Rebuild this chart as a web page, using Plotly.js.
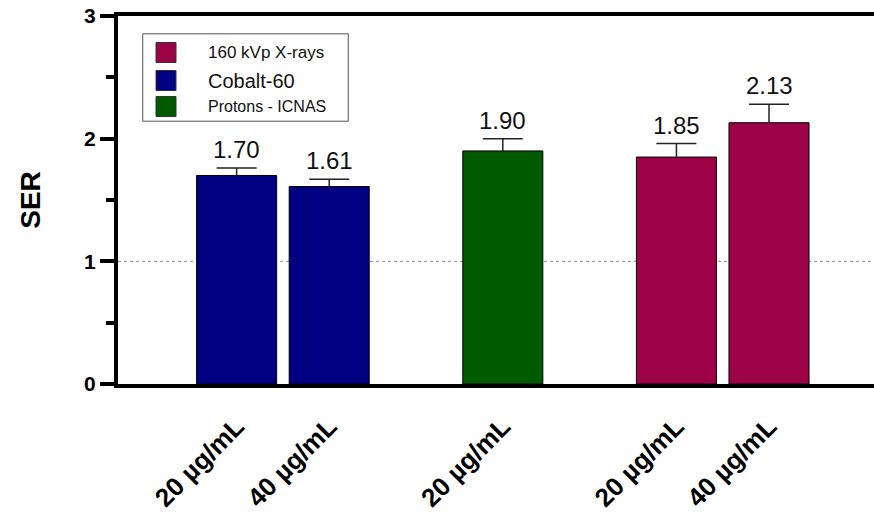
<!DOCTYPE html>
<html>
<head>
<meta charset="utf-8">
<script src="https://cdn.plot.ly/plotly-3.0.1.min.js"></script>
<style>html,body{margin:0;padding:0;background:#fff;}#chart{width:874px;height:520px;}</style>
</head>
<body>
<div id="chart"></div>
<script>
// ---- data ----
const groups = ["Cobalt-60", "Protons - ICNAS", "160 kVp X-rays"];
const groupColors = ["#000080", "#005a00", "#9b0346"];
const legendOrder = ["160 kVp X-rays", "Cobalt-60", "Protons - ICNAS"];
const legendFontSizes = [17, 20, 16];

const barGroup = ["Cobalt-60", "Cobalt-60", "Protons - ICNAS", "160 kVp X-rays", "160 kVp X-rays"];
const doseLabels = ["20 µg/mL", "40 µg/mL", "20 µg/mL", "20 µg/mL", "40 µg/mL"];
const serValues = [1.70, 1.61, 1.90, 1.85, 2.13];
const serErrors = [0.06, 0.06, 0.10, 0.11, 0.15];

const yTickVals = [0, 1, 2, 3];
const yTickText = ["0", "1", "2", "3"];

// ---- build ----
const FONT = "Liberation Sans, Arial, sans-serif";
const barSpacing = 0.421;
const barWidth = 0.364;
const capHalf = 0.091;

const xPos = [];
const traces = [];
groups.forEach((g, gi) => {
  const idx = barGroup.map((b, i) => b === g ? i : -1).filter(i => i >= 0);
  const n = idx.length;
  const xs = [], ys = [];
  idx.forEach((i, k) => {
    const x = gi + (k - (n - 1) / 2) * barSpacing;
    xPos[i] = x;
    xs.push(x); ys.push(serValues[i]);
  });
  traces.push({
    type: "bar", name: g, x: xs, y: ys, width: barWidth,
    marker: {color: groupColors[gi], line: {color: "#000", width: 1}},
    showlegend: false, hoverinfo: "skip"
  });
});

// upward-only error whiskers with caps
const ex = [], ey = [];
serValues.forEach((v, i) => {
  const top = v + serErrors[i];
  ex.push(xPos[i], xPos[i], null, xPos[i] - capHalf, xPos[i] + capHalf, null);
  ey.push(v, top, null, top, top, null);
});
traces.push({type: "scatter", mode: "lines", x: ex, y: ey,
  line: {color: "#222", width: 1.5}, showlegend: false, hoverinfo: "skip", cliponaxis: false});

const annotations = serValues.map((v, i) => ({
  x: xPos[i], y: v + serErrors[i], xref: "x", yref: "y",
  text: v.toFixed(2), showarrow: false, yanchor: "bottom", yshift: 3,
  font: {family: FONT, size: 24, color: "#111"}
}));

const shapes = [{
  type: "line", xref: "paper", yref: "y", x0: 0, x1: 1, y0: 1, y1: 1,
  line: {color: "#888", width: 1, dash: "3px,3px"}, layer: "below"
}];

// manual legend
const lg = {x0: 0.0327, x1: 0.3046, y0: 0.7141, y1: 0.9516};
shapes.push({type: "rect", xref: "paper", yref: "paper", x0: lg.x0, x1: lg.x1, y0: lg.y0, y1: lg.y1,
  line: {color: "#555", width: 1}, fillcolor: "rgba(255,255,255,1)"});
const rowCenters = [0.9008, 0.8247, 0.7541];
const swHalf = 0.0272;
legendOrder.forEach((name, r) => {
  const c = groupColors[groups.indexOf(name)];
  shapes.push({type: "rect", xref: "paper", yref: "paper", x0: 0.0503, x1: 0.0767,
    y0: rowCenters[r] - swHalf, y1: rowCenters[r] + swHalf,
    line: {color: "#333", width: 1}, fillcolor: c});
  annotations.push({xref: "paper", yref: "paper", x: 0.1164, y: rowCenters[r],
    xanchor: "left", yanchor: "middle", showarrow: false, text: name,
    font: {family: FONT, size: legendFontSizes[r], color: "#111"}});
});

const layout = {
  width: 874, height: 520,
  margin: {l: 118, r: 0, t: 16, b: 136},
  paper_bgcolor: "#fff", plot_bgcolor: "#fff",
  font: {family: FONT, color: "#000"},
  showlegend: false,
  xaxis: {
    range: [-0.750, 2.688], showgrid: false, zeroline: false,
    showline: true, linecolor: "#000", linewidth: 4, mirror: true,
    ticks: "", tickmode: "array", tickvals: xPos, ticktext: doseLabels,
    tickangle: -45, ticklabelstandoff: 13,
    tickfont: {family: FONT, size: 26, color: "#000", weight: "bold"}
  },
  yaxis: {
    range: [0, 3], showgrid: false, zeroline: false,
    showline: true, linecolor: "#000", linewidth: 4,
    ticks: "outside", ticklen: 14, tickwidth: 4, tickcolor: "#000",
    tickmode: "array", tickvals: yTickVals, ticktext: yTickText,
    minor: {ticks: "outside", ticklen: 8, tickwidth: 4, tickcolor: "#000", dtick: 0.5, showgrid: false},
    tickfont: {family: FONT, size: 21, color: "#000", weight: "bold"},
    title: {text: "SER", standoff: 36, font: {family: FONT, size: 28, color: "#000", weight: "bold"}}
  },
  shapes: shapes,
  annotations: annotations
};

Plotly.newPlot("chart", traces, layout, {staticPlot: true, displayModeBar: false});
</script>
</body>
</html>
